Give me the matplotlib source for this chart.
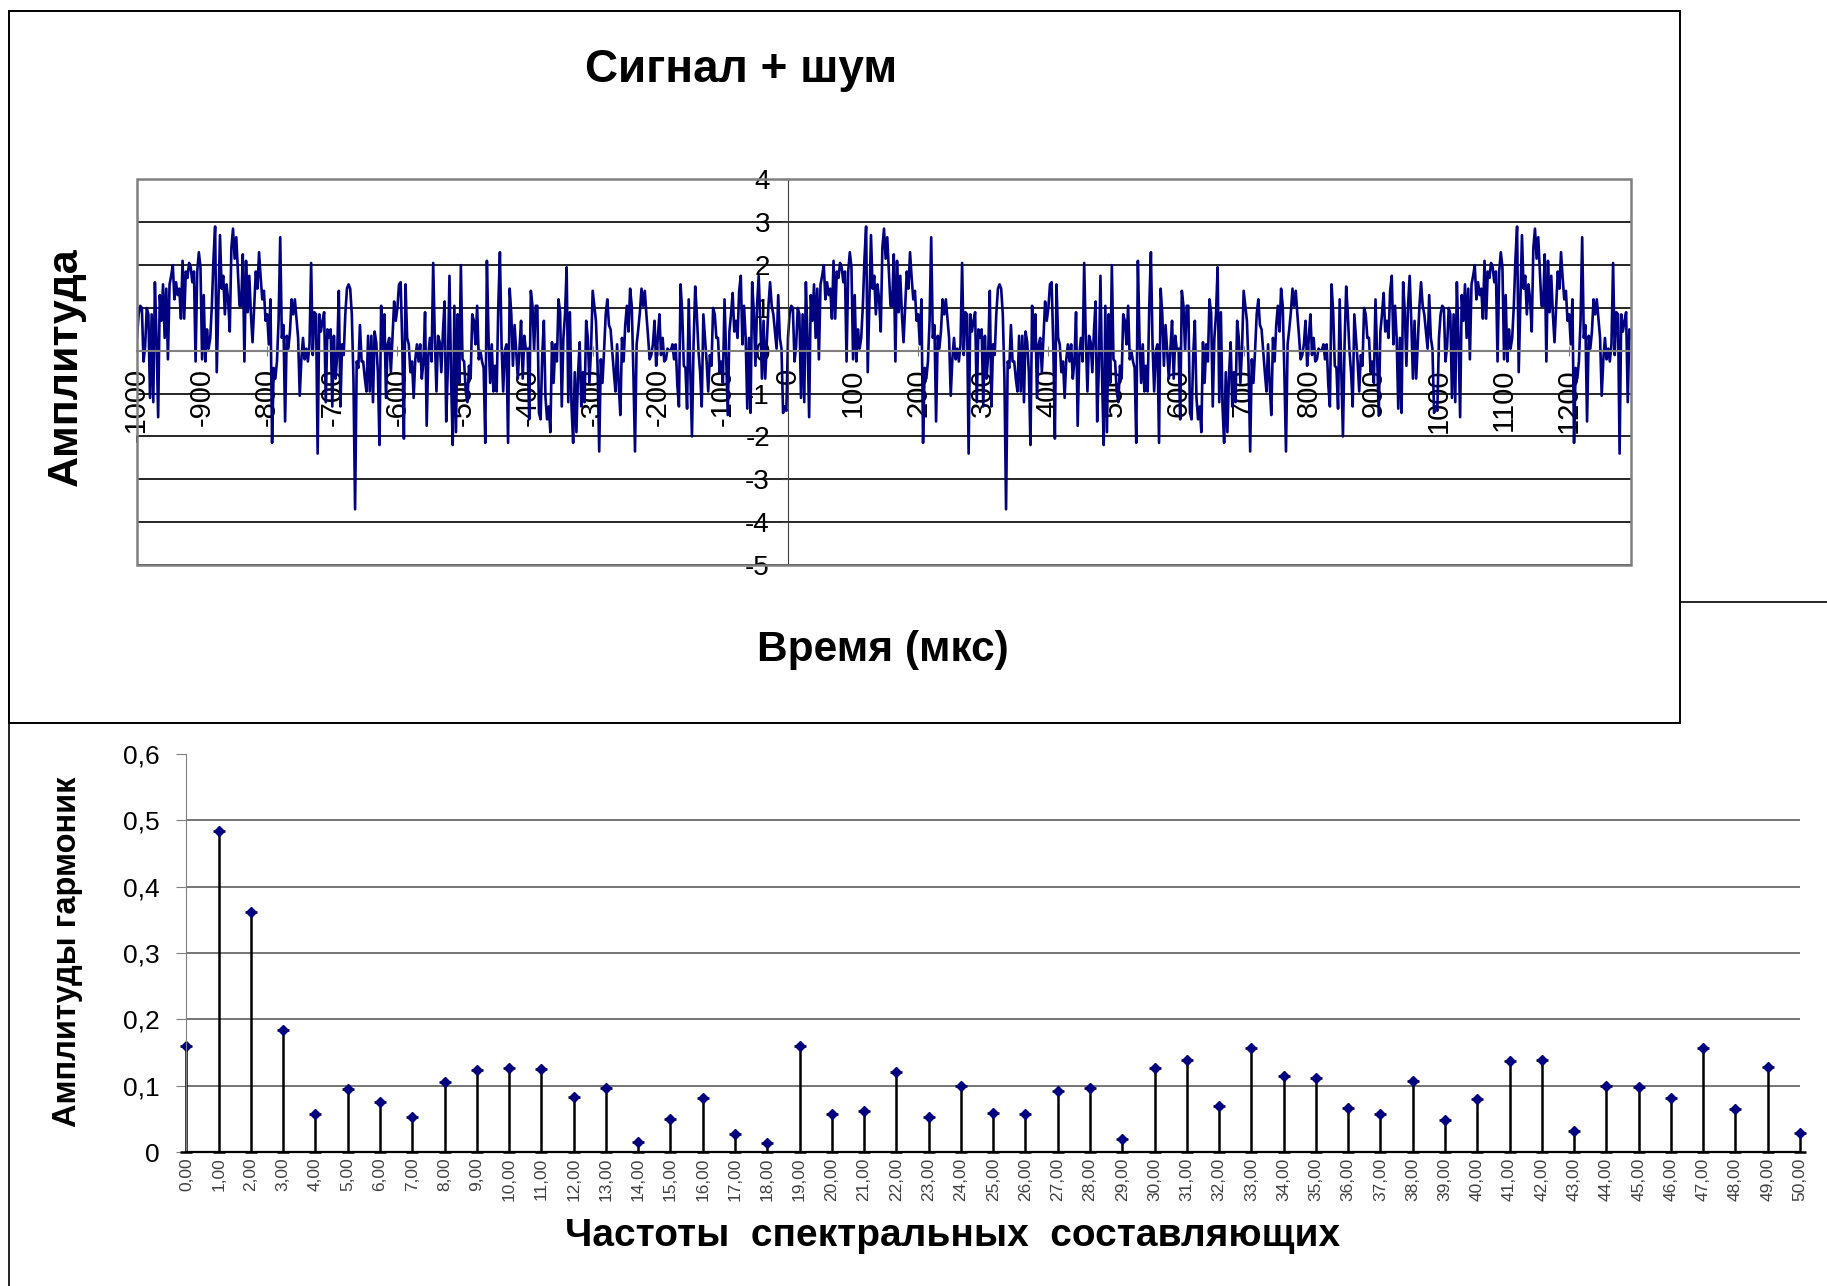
import numpy as np
import matplotlib
matplotlib.use("Agg")
import matplotlib.pyplot as plt
from matplotlib.patches import Rectangle
from matplotlib.lines import Line2D

plt.rcParams['font.family'] = ['Liberation Sans', 'DejaVu Sans']

# --- signal + noise: one period (t = 0 ... 997.5 us, step 2.5 us) ---
period_amp = [
    0.3, 0.85, 1.05, 1.0, -0.25, 0.1, 1.0, 0.85, -1.1, 0.85, -1.2, 1.6, 0.3, -1.55, 1.3, 0.7,
    1.55, 0.3, 1.45, -0.2, 1.55, 1.75, 2.0, 1.2, 1.6, 1.3, 1.45, 0.75, 2.1, 0.75, 1.85, 1.7,
    2.05, 1.95, 1.6, 1.85, -0.25, 1.85, 2.3, 1.95, -0.2, 1.3, -0.25, 0.5, 0.05, 0.3, 1.05, 2.15,
    2.9, -0.5, 1.05, 2.7, 1.45, 1.75, 0.85, 1.55, 1.2, 0.45, 2.4, 2.85, 2.15, 2.65, 1.85, 1.05,
    1.05, 2.25, -0.25, 2.1, 0.9, 1.75, 0.85, 0.2, 1.05, 1.85, 1.45, 2.3, 1.7, 1.2, 1.4, 0.7,
    0.85, 0.15, 1.2, -2.15, -0.4, -0.65, -0.25, 0.7, 2.65, 0.3, 0.6, -1.65, 0.35, 0.05, 0.45, 1.2,
    0.85, 1.2, 0.75, 0.3, -1.05, -0.2, 0.3, -0.2, 0.05, -0.25, 0.15, 2.05, -0.1, 0.9, 0.85, -2.4,
    0.85, 0.45, 0.7, 0.9, -1.2, 0.5, 0.3, 0.5, -1.3, 0.35, -0.65, -0.1, 1.4, -1.3, 0.15, -0.1,
    0.85, 1.45,
    1.55, 1.45, 0.85, -0.65, -3.7, -0.25, -0.4, 0.6, -0.25, -0.25, -0.65, -0.95, 0.35, -0.95,
    0.35, -1.2, 0.45, 0.2, -0.5, -2.2, 1.05, 0.0, 0.85, -1.1, 0.15, 0.3, -0.5, 0.3, 1.15, 0.7,
    1.0, 1.55, 1.6, 0.15, -2.05, 1.55, 0.3, 0.15, -0.5, -0.25, -1.1, -0.2, 0.15, -0.25, 0.15,
    -0.65, -0.25, 0.9, -1.75, -0.1, 0.3, -0.25, 2.05, 0.3, -0.95, 0.35, 0.2, -0.5, 0.45, 1.15,
    -1.65, -0.4, 1.75, -0.65, -2.2, 1.05,
    -1.9, 0.85, -0.75, 2.0, -0.2, -0.25, -0.95, -1.2, -0.35, -0.65, 0.85, 0.7, 0.15, 1.05, -0.2,
    0.0, -0.25, -0.4, -2.15, 2.1, 0.3, -0.75, 0.15, -0.95, -0.35, -0.95, 1.05, 2.3, 0.15, -0.95,
    0.0, 0.15, -2.15, 1.45, 0.85, -0.35, 0.6, 0.0, -0.65, 0.05, 0.7, -0.65, 0.35, 0.0, 0.05,
    -1.6, 1.4, 1.05, 0.0, 1.05, 1.05, -1.45, -1.6, -0.1, 0.7, -1.1, -1.6, -1.3, -1.9, 0.2,
    -0.75, 0.15, -0.25, 1.2, 0.9, -1.3,
    0.3, 0.85, 1.95, -1.2, 0.9, -1.3, -2.15, -0.5, -1.9, -0.55, 0.2, -1.3, -0.5, -1.2, 0.7,
    0.3, -0.75, 0.05, 1.4, 1.05, 0.7, -0.35, -2.35, -0.2, -0.75, 0.0, 0.85, 1.2, 0.6, 0.5,
    0.0, -0.5, -0.95, 0.15, -0.8, -1.5, 0.3, -0.25, 0.6, 1.05, 0.45, 1.45, 1.05, -0.5, -2.35,
    0.15, 0.5, 0.9, 1.45, 1.05, 1.4, 0.85, 0.35, -0.2, -0.1, 0.15, 0.7, -0.35, 0.3, 0.85,
    -0.1, 0.3, -0.25, -0.2, 0.05, 0.0,
    0.0, 0.15, -0.2, 0.15, -0.8, -1.3, 1.55, 0.9, -0.35, -0.4, -1.35, 1.2, -0.5, -2.0, 0.15,
    1.5, 0.85, 0.0, -0.5, -1.3, 0.85, 0.3, -0.25, -0.95, -0.1, -0.35, 1.0, 0.85, 0.3, 0.3,
    -0.5, -0.25, -0.75, 1.2, -0.1, -1.5, 0.45, 0.85, 1.35, 0.45, 0.7, 0.3, 1.4, 1.75, 0.15,
    1.05, 0.3, -1.35, 0.3, -1.45, 1.6, 0.9, -0.35, 1.05, 1.75, 0.7, -0.65, 0.7, -0.65, 0.2,
    1.05, 1.6, 1.05, 0.85, 0.45, 0.05, 1.3, 0.3, 0.05, -1.45, -1.3, -1.4,
]
time_step = 2.5
time_start = -1000
time_end = 1295
time_ticks = [-1000, -900, -800, -700, -600, -500, -400, -300, -200, -100, 0,
              100, 200, 300, 400, 500, 600, 700, 800, 900, 1000, 1100, 1200]
amp_ticks = [4, 3, 2, 1, 0, -1, -2, -3, -4, -5]

# --- spectrum ---
harm_freq = list(range(51))
harm_amp = [0.160, 0.483, 0.362, 0.184, 0.058, 0.095, 0.075, 0.053, 0.105, 0.123,
            0.127, 0.125, 0.083, 0.097, 0.015, 0.050, 0.082, 0.027, 0.014, 0.159,
            0.058, 0.062, 0.121, 0.053, 0.100, 0.059, 0.058, 0.092, 0.097, 0.020,
            0.126, 0.139, 0.069, 0.156, 0.114, 0.111, 0.066, 0.057, 0.107, 0.048,
            0.080, 0.137, 0.139, 0.032, 0.099, 0.098, 0.082, 0.157, 0.065, 0.128,
            0.028]
harm_labels = ['%d,00' % f for f in harm_freq]
spec_ticks = [0, 0.1, 0.2, 0.3, 0.4, 0.5, 0.6]
spec_tick_labels = ['0', '0,1', '0,2', '0,3', '0,4', '0,5', '0,6']

W, H = 1827, 1286
fig = plt.figure(figsize=(W / 100, H / 100), dpi=100)
fig.patch.set_facecolor('white')

def fx(px):
    return px / W

def fy(py):
    return 1 - py / H

# frame of the lower chart (mostly hidden behind the upper one)
fig.add_artist(Line2D([fx(9), fx(9)], [fy(602), 0], color='black', lw=1.2, zorder=-3))
fig.add_artist(Line2D([fx(9), 1], [fy(602), fy(602)], color='black', lw=1.2, zorder=-3))
# frame of the upper chart
fig.add_artist(Rectangle((fx(9), fy(723)), fx(1680) - fx(9), fy(10.5) - fy(723),
                         facecolor='white', edgecolor='black', lw=1.4, zorder=-2))

# ---------------- upper chart ----------------
t = np.arange(time_start, time_end + time_step / 2, time_step)
amp = np.array((period_amp * 3)[:len(t)])

ax1 = fig.add_axes([fx(137), fy(565), fx(1631) - fx(137), fy(179.4) - fy(565)])
# axes cross at the origin (set before the tick labels, it resets them)
for s in ('top', 'right'):
    ax1.spines[s].set_visible(False)
ax1.spines['left'].set_position(('data', 0))
ax1.spines['bottom'].set_position(('data', 0))
ax1.spines['left'].set_color('#404040')
ax1.spines['bottom'].set_color('#808080')
ax1.spines['bottom'].set_linewidth(1.5)

ax1.plot(t, amp, color='#000080', lw=1.9)
ax1.set_xlim(time_start, time_end)
ax1.set_ylim(-5, 4)
ax1.set_yticks(amp_ticks)
ax1.set_yticklabels([str(v) for v in amp_ticks], fontsize=20)
ax1.set_xticks(time_ticks)
ax1.set_xticklabels([str(v) for v in time_ticks], rotation=90, fontsize=21)
ax1.yaxis.grid(True, color='black', lw=1.2)
ax1.tick_params(axis='y', direction='out', length=5, pad=8, color='#404040')
ax1.tick_params(axis='x', direction='inout', length=7, pad=9, color='#808080')
ax1.add_patch(Rectangle((0, 0), 1, 1, transform=ax1.transAxes, fill=False,
                        edgecolor='#808080', lw=1.8, zorder=3, clip_on=False))

fig.text(fx(741), fy(70), 'Сигнал + шум', ha='center', va='center',
         fontsize=33, fontweight='bold')
fig.text(fx(66), fy(367), 'Амплитуда', ha='center', va='center', rotation=90,
         fontsize=31, fontweight='bold')
fig.text(fx(883), fy(650), 'Время (мкс)', ha='center', va='center',
         fontsize=30.5, fontweight='bold')

# ---------------- lower chart (spectrum) ----------------
ax2 = fig.add_axes([fx(186.4), fy(1152), fx(1800) - fx(186.4), fy(753.8) - fy(1152)])
cont = ax2.errorbar(harm_freq, harm_amp, yerr=[harm_amp, np.zeros(len(harm_amp))],
                    fmt='D', color='#000080', ms=5.5, ecolor='black',
                    elinewidth=1.8, capsize=4, capthick=1.8)
for art in cont.get_children():
    art.set_clip_on(False)
ax2.set_xlim(0, 50)
ax2.set_ylim(0, 0.6)
ax2.set_yticks(spec_ticks)
ax2.set_yticklabels(spec_tick_labels, fontsize=19)
ax2.set_xticks(harm_freq)
ax2.set_xticklabels(harm_labels, rotation=90, fontsize=12.5, color='#404040')
ax2.yaxis.grid(True, color='#505050', lw=1.1)
ax2.get_ygridlines()[-1].set_visible(False)
ax2.get_ygridlines()[0].set_visible(False)
for s in ('top', 'right'):
    ax2.spines[s].set_visible(False)
ax2.spines['left'].set_color('#808080')
ax2.spines['bottom'].set_color('black')
ax2.spines['bottom'].set_linewidth(1.6)
ax2.tick_params(axis='y', direction='out', length=7, pad=12, color='#808080')
ax2.tick_params(axis='x', length=0, pad=4)

fig.text(fx(68), fy(952), 'Амплитуды гармоник', ha='center', va='center', rotation=90,
         fontsize=23.5, fontweight='bold')
fig.text(fx(953), fy(1236), 'Частоты  спектральных  составляющих', ha='center',
         va='center', fontsize=28, fontweight='bold')

fig.savefig('out.png', dpi=100)
